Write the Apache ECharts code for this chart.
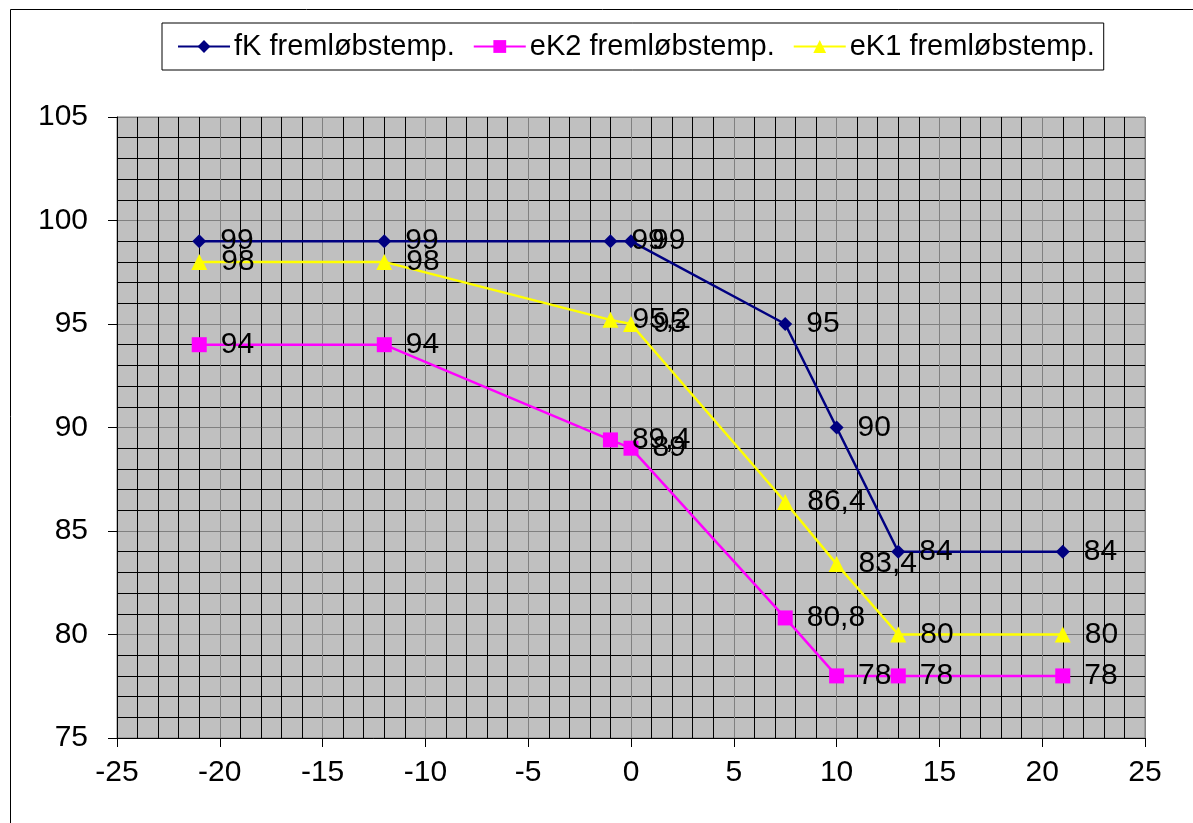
<!DOCTYPE html>
<html>
<head>
<meta charset="utf-8">
<script src="https://cdn.jsdelivr.net/npm/echarts@6/dist/echarts.min.js"></script>
<style>
html,body{margin:0;padding:0;background:#fff;}
#chart{width:1193px;height:823px;}
</style>
</head>
<body>
<div id="chart"></div>
<script>
var seriesNames = ['fK fremløbstemp.', 'eK2 fremløbstemp.', 'eK1 fremløbstemp.'];
var xValues = [-21, -12, -1, 0, 7.5, 10, 13, 21];
var fK = [99, 99, 99, 99, 95, 90, 84, 84];
var eK2 = [94, 94, 89.4, 89, 80.8, 78, 78, 78];
var eK1 = [98, 98, 95.2, 95, 86.4, 83.4, 80, 80];
var xTicks = {min: -25, max: 25, interval: 5};
var yTicks = {min: 75, max: 105, interval: 5};

function pairs(ys){ return xValues.map(function(x,i){ return [x, ys[i]]; }); }
var font = '"Liberation Sans", Arial, sans-serif';
function mk(name, ys, color, symbol, size){
  return {
    name: name, type: 'line', data: pairs(ys),
    symbol: symbol, symbolSize: size,
    lineStyle: {color: color, width: 2.5},
    itemStyle: {color: color},
    label: {show: true, position: 'right', distance: 14, color: '#000', fontSize: 30, fontFamily: font,
      formatter: function(p){ return String(p.value[1]).replace('.', ','); }},
    animation: false
  };
}
var chart = echarts.init(document.getElementById('chart'));
chart.setOption({
  animation: false,
  backgroundColor: '#fff',
  graphic: [{type: 'rect', left: 8, top: 7, shape: {width: 1250, height: 900}, style: {fill: 'none', stroke: '#000', lineWidth: 1}, silent: true, z: -1}],
  legend: {
    data: seriesNames, left: 162, top: 23,
    padding: [9, 9, 9, 15], borderColor: '#000', borderWidth: 1,
    itemWidth: 52, itemHeight: 16, itemGap: 18,
    textStyle: {fontSize: 29, fontFamily: font, color: '#000', padding: [0, 0, 0, -1]}
  },
  grid: {left: 117, right: 48, top: 117, bottom: 85, show: true, backgroundColor: '#c0c0c0', borderColor: '#808080', borderWidth: 1},
  xAxis: {
    type: 'value', min: xTicks.min, max: xTicks.max, interval: xTicks.interval,
    axisLine: {show: true, onZero: false, lineStyle: {color: '#000'}},
    axisTick: {show: true, length: 9, lineStyle: {color: '#000'}},
    axisLabel: {fontSize: 30, fontFamily: font, color: '#000', margin: 20},
    splitLine: {show: true, lineStyle: {color: '#808080', width: 1}},
    minorTick: {show: false, splitNumber: 5},
    minorSplitLine: {show: true, lineStyle: {color: '#000', width: 1}}
  },
  yAxis: {
    type: 'value', min: yTicks.min, max: yTicks.max, interval: yTicks.interval,
    axisLine: {show: true, onZero: false, lineStyle: {color: '#000'}},
    axisTick: {show: true, length: 9, lineStyle: {color: '#000'}},
    axisLabel: {fontSize: 30, fontFamily: font, color: '#000', margin: 29},
    splitLine: {show: true, lineStyle: {color: '#808080', width: 1}},
    minorTick: {show: false, splitNumber: 5},
    minorSplitLine: {show: true, lineStyle: {color: '#000', width: 1}}
  },
  series: [
    mk(seriesNames[0], fK, '#000080', 'diamond', 14),
    mk(seriesNames[1], eK2, '#ff00ff', 'rect', 15),
    mk(seriesNames[2], eK1, '#ffff00', 'triangle', 16)
  ]
});
</script>
</body>
</html>
